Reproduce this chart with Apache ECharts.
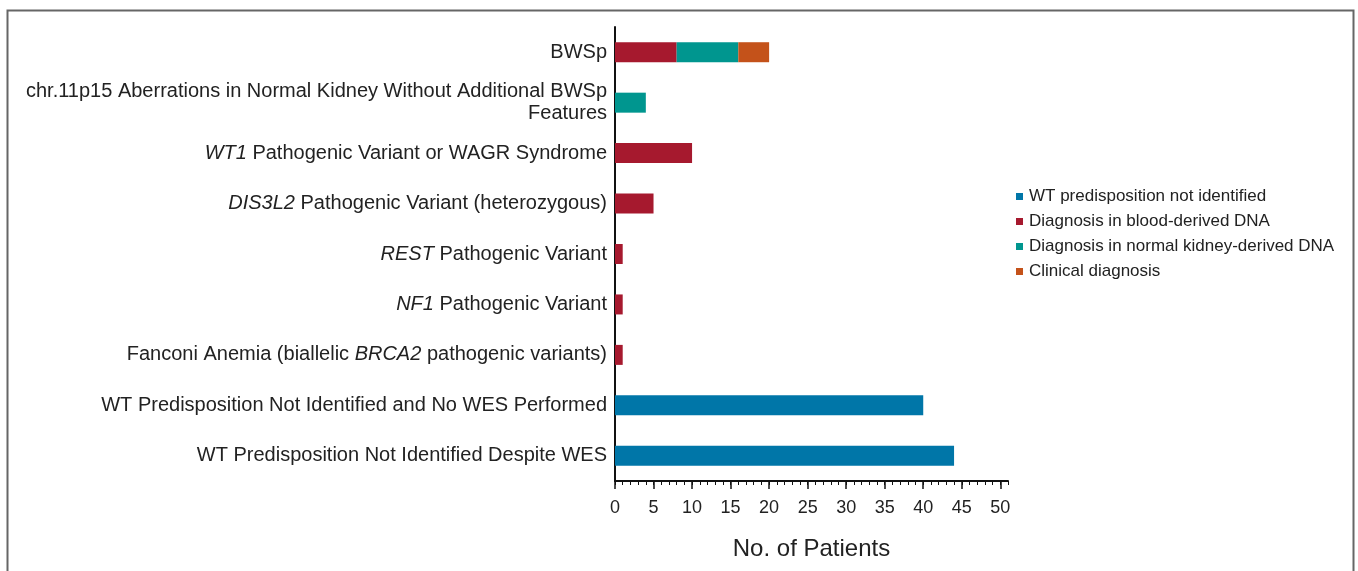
<!DOCTYPE html>
<html>
<head>
<meta charset="utf-8">
<script src="https://cdn.jsdelivr.net/npm/echarts@6/dist/echarts.min.js"></script>
<style>
  html, body { margin: 0; padding: 0; background: #fff; }
  #chart { width: 1358px; height: 571px; }
</style>
</head>
<body>
<div id="chart"></div>
<script>
// categories, top to bottom
const categories = [
  'BWSp',
  'chr.11p15 Aberrations in Normal Kidney Without Additional BWSp\nFeatures',
  'WT1 Pathogenic Variant or WAGR Syndrome',
  'DIS3L2 Pathogenic Variant (heterozygous)',
  'REST Pathogenic Variant',
  'NF1 Pathogenic Variant',
  'Fanconi Anemia (biallelic BRCA2 pathogenic variants)',
  'WT Predisposition Not Identified and No WES Performed',
  'WT Predisposition Not Identified Despite WES'
]
// gene names shown in italics
const italicWords = ['WT1', 'DIS3L2', 'REST', 'NF1', 'BRCA2']

const seriesNames = [
  'WT predisposition not identified',
  'Diagnosis in blood-derived DNA',
  'Diagnosis in normal kidney-derived DNA',
  'Clinical diagnosis'
]
const notIdentified = ['-', '-', '-', '-', '-', '-', '-', 40, 44]
const bloodDNA      = [8, '-', 10, 5, 1, 1, 1, '-', '-']
const kidneyDNA     = [8, 4, '-', '-', '-', '-', '-', '-', '-']
const clinical      = [4, '-', '-', '-', '-', '-', '-', '-', '-']

const majorTicks = [0, 5, 10, 15, 20, 25, 30, 35, 40, 45, 50]
const colors = ['#0076a8', '#a6192e', '#00968f', '#c4521a']

const font = '"Liberation Sans", Arial, Helvetica, sans-serif'

function italicize(s) {
  let out = s
  italicWords.forEach(w => {
    out = out.replace(new RegExp('\\b' + w + '\\b'), '{i|' + w + '}')
  })
  return out
}

const chart = echarts.init(document.getElementById('chart'))

const bar = (name, data, color) => ({
  name,
  type: 'bar',
  stack: 'total',
  barWidth: 20,
  data,
  itemStyle: { color },
  emphasis: { disabled: true }
})

chart.setOption({
  animation: false,
  backgroundColor: '#fff',
  textStyle: { fontFamily: font },
  graphic: [{
    type: 'rect',
    shape: { x: 7.5, y: 10.5, width: 1346, height: 620 },
    style: { fill: 'none', stroke: '#666', lineWidth: 2 },
    silent: true
  }],
  grid: { left: 615, right: 350, top: 27, bottom: 90, containLabel: false },
  legend: {
    orient: 'vertical',
    left: 1016,
    top: 188,
    padding: 0,
    icon: 'rect',
    itemWidth: 7,
    itemHeight: 7,
    itemGap: 8,
    selectedMode: false,
    data: seriesNames,
    textStyle: { color: '#222', fontSize: 17, lineHeight: 17, padding: [0, 0, 0, 1], fontFamily: font }
  },
  xAxis: [
    {
      type: 'value',
      min: 0,
      max: 51,
      interval: 5,
      position: 'bottom',
      name: 'No. of Patients',
      nameLocation: 'middle',
      nameGap: 56,
      nameTextStyle: {
        color: '#222',
        fontSize: 24,
        fontFamily: '"Liberation Sans Narrow", "Arial Narrow", ' + font
      },
      splitLine: { show: false },
      axisLine: { show: true, lineStyle: { color: '#111', width: 2 } },
      axisTick: { show: true, length: 8, customValues: majorTicks, lineStyle: { color: '#111', width: 1.5 } },
      axisLabel: { customValues: majorTicks, color: '#222', fontSize: 18, margin: 18, fontFamily: font }
    },
    {
      type: 'value',
      min: 0,
      max: 51,
      interval: 1,
      position: 'bottom',
      splitLine: { show: false },
      axisLine: { show: false },
      axisTick: { show: true, length: 4, lineStyle: { color: '#111', width: 1 } },
      axisLabel: { show: false }
    }
  ],
  yAxis: {
    type: 'category',
    inverse: true,
    data: categories,
    axisLine: { show: true, lineStyle: { color: '#111', width: 2 } },
    axisTick: { show: false },
    axisLabel: {
      color: '#222',
      fontSize: 20,
      lineHeight: 22,
      margin: 8,
      align: 'right',
      fontFamily: font,
      formatter: v => italicize(v),
      rich: { i: { fontStyle: 'italic', fontSize: 20, lineHeight: 22, fontFamily: font, color: '#222' } }
    }
  },
  series: [
    bar(seriesNames[0], notIdentified, colors[0]),
    bar(seriesNames[1], bloodDNA, colors[1]),
    bar(seriesNames[2], kidneyDNA, colors[2]),
    bar(seriesNames[3], clinical, colors[3])
  ]
})
</script>
</body>
</html>
